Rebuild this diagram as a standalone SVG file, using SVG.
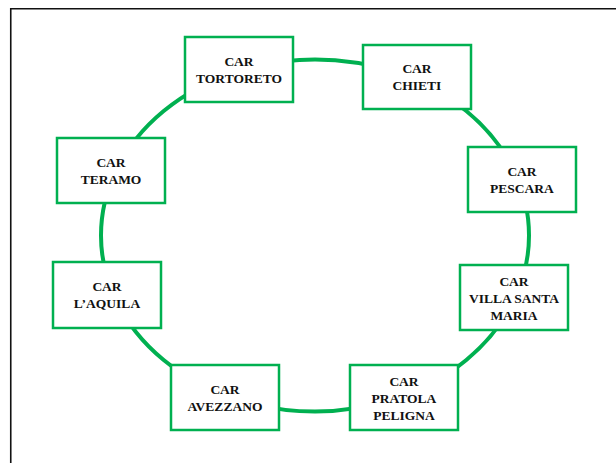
<svg xmlns="http://www.w3.org/2000/svg" width="616" height="463" viewBox="0 0 616 463">
<style>
.box{fill:#fff;stroke:#00B050;stroke-width:2.5}
.ring{fill:none;stroke:#00B050;stroke-width:4}
.lbl{font-family:"Liberation Serif","Times New Roman",serif;font-weight:bold;font-size:13.5px;fill:#111;text-anchor:middle}
</style>
<rect width="616" height="463" fill="#fff"/>
<path d="M10.75,463 V8.75 H616" fill="none" stroke="#111" stroke-width="1.6"/>
<g id="connectors">
<ellipse class="ring" cx="315" cy="235.5" rx="214" ry="176"/>
</g>
<g id="node-tortoreto"><rect class="box" x="185" y="37" width="108" height="65"/><text class="lbl" x="239" y="65.5">CAR</text><text class="lbl" x="239" y="82.5">TORTORETO</text></g>
<g id="node-chieti"><rect class="box" x="363" y="45" width="108" height="64"/><text class="lbl" x="417" y="73">CAR</text><text class="lbl" x="417" y="90">CHIETI</text></g>
<g id="node-teramo"><rect class="box" x="57" y="138" width="108" height="65"/><text class="lbl" x="111" y="166.5">CAR</text><text class="lbl" x="111" y="183.5">TERAMO</text></g>
<g id="node-pescara"><rect class="box" x="468" y="147" width="108" height="65"/><text class="lbl" x="522" y="175.5">CAR</text><text class="lbl" x="522" y="192.5">PESCARA</text></g>
<g id="node-laquila"><rect class="box" x="53" y="262" width="108" height="66"/><text class="lbl" x="107" y="291">CAR</text><text class="lbl" x="107" y="308">L’AQUILA</text></g>
<g id="node-villasantamaria"><rect class="box" x="460" y="265" width="108" height="65"/><text class="lbl" x="514" y="285.5">CAR</text><text class="lbl" x="514" y="302.5">VILLA SANTA</text><text class="lbl" x="514" y="319.5">MARIA</text></g>
<g id="node-avezzano"><rect class="box" x="171" y="365" width="108" height="65"/><text class="lbl" x="225" y="393.5">CAR</text><text class="lbl" x="225" y="410.5">AVEZZANO</text></g>
<g id="node-pratolapeligna"><rect class="box" x="350" y="365" width="108" height="65"/><text class="lbl" x="404" y="385.5">CAR</text><text class="lbl" x="404" y="402.5">PRATOLA</text><text class="lbl" x="404" y="419.5">PELIGNA</text></g>
</svg>
